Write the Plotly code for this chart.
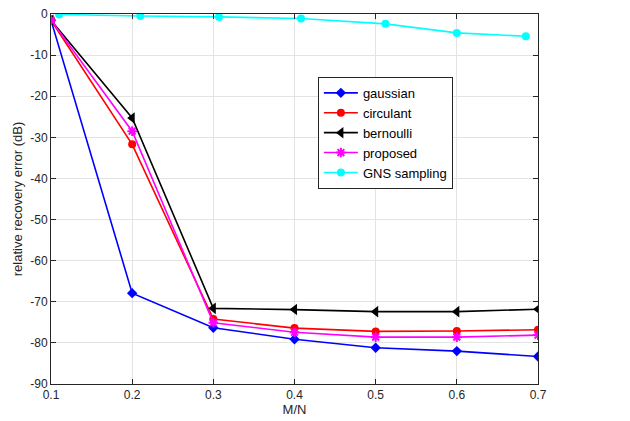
import plotly.graph_objects as go

x_mn = [0.1, 0.2, 0.3, 0.4, 0.5, 0.6, 0.7]
gaussian = [-1.5, -67.9, -76.3, -79.1, -81.2, -82.0, -83.3]
circulant = [-1.5, -31.7, -74.2, -76.4, -77.2, -77.1, -76.8]
bernoulli = [-1.5, -25.3, -71.6, -71.9, -72.4, -72.4, -71.8]
proposed = [-1.5, -28.5, -75.1, -77.4, -78.6, -78.6, -78.1]
gns_x = [0.11, 0.21, 0.307, 0.408, 0.512, 0.6, 0.685]
gns = [-0.1, -0.5, -0.7, -1.1, -2.4, -4.6, -5.4]

x_ticks = [0.1, 0.2, 0.3, 0.4, 0.5, 0.6, 0.7]
y_ticks = [0, -10, -20, -30, -40, -50, -60, -70, -80, -90]

fig = go.Figure()
series = [
    ("gaussian", x_mn, gaussian, "#0000ff", "diamond", 8),
    ("circulant", x_mn, circulant, "#ff0000", "circle", 8),
    ("bernoulli", x_mn, bernoulli, "#000000", "triangle-left", 10),
    ("proposed", x_mn, proposed, "#ff00ff", "asterisk-open", 8),
    ("GNS sampling", gns_x, gns, "#00ffff", "circle", 8),
]
for name, xs, ys, col, sym, sz in series:
    fig.add_trace(go.Scatter(
        x=xs, y=ys, name=name, mode="lines+markers",
        line=dict(color=col, width=1.6),
        marker=dict(symbol=sym, size=sz, color=col,
                    line=dict(color=col, width=2 if sym == "asterisk-open" else 0)),
    ))

axis_common = dict(
    showline=True, linecolor="#262626", linewidth=1, mirror="ticks",
    ticks="inside", ticklen=5, tickcolor="#262626",
    showgrid=True, gridcolor="#e3e3e3", gridwidth=1, zeroline=False,
    automargin=False,
    tickfont=dict(family="Liberation Sans, Arial, sans-serif", size=12, color="#262626"),
)
fig.update_xaxes(range=[0.1, 0.7], tickvals=x_ticks, ticktext=[str(v) for v in x_ticks],
                 title=dict(text="M/N", standoff=2, font=dict(size=13, color="#262626")), **axis_common)
fig.update_yaxes(range=[-90, 0], tickvals=y_ticks, ticktext=[str(v) for v in y_ticks],
                 title=dict(text="relative recovery error (dB)", standoff=4, font=dict(size=13, color="#262626")), **axis_common)

fig.update_layout(
    width=630, height=421,
    margin=dict(l=51, r=92, t=14, b=37, autoexpand=False),
    paper_bgcolor="white", plot_bgcolor="white",
    font=dict(family="Liberation Sans, Arial, sans-serif", size=12, color="#262626"),
    legend=dict(x=0.548, y=0.83, xanchor="left", yanchor="top",
                bgcolor="white", bordercolor="#262626", borderwidth=1,
                font=dict(size=13, color="#000000"), itemwidth=34),
    showlegend=True,
)

fig.write_html("out.html", config={"displayModeBar": False},
               post_script="document.body.style.margin='0px';")
